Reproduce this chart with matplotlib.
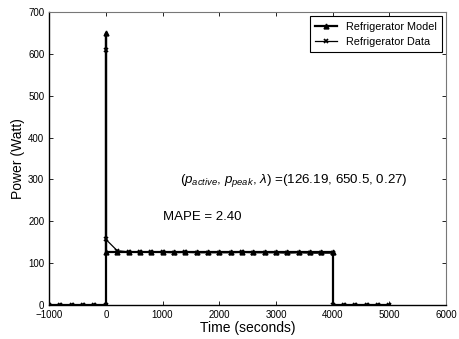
import matplotlib
matplotlib.use('Agg')
import matplotlib.pyplot as plt

plt.rcParams['font.family'] = ['Liberation Sans', 'DejaVu Sans']
plt.rcParams['mathtext.fontset'] = 'custom'
plt.rcParams['mathtext.rm'] = 'Liberation Sans'
plt.rcParams['mathtext.it'] = 'Liberation Sans:italic'

# model: sampled every 200 s, step at 0 and 4000
model_t = [-1000, -800, -600, -400, -200, 0, 0, 0] + list(range(200, 4001, 200)) + [4000, 4200, 4400, 4600, 4800, 5000]
model_p = [0, 0, 0, 0, 0, 0, 650.5, 126.19] + [126.19] * 20 + [0, 0, 0, 0, 0, 0]

# measured data
data_t = [-1000, -800, -600, -400, -200, 0, 0, 0] + list(range(200, 4001, 200)) + [4000, 4200, 4400, 4600, 4800, 5000]
data_p = [0, 0, 0, 0, 0, 0, 609, 157,
          130, 127, 127, 126, 126, 125, 126, 125, 125, 125,
          125, 126, 125, 125, 125, 124, 125, 124, 124, 124,
          0, 0, 0, 0, 0, 0]

fig = plt.figure(figsize=(4.59, 3.39), dpi=100)
ax = fig.add_axes([0.107, 0.100, 0.865, 0.865])

ax.plot(model_t, model_p, '-^', color='k', lw=1.6, ms=3.5, label='Refrigerator Model')
ax.plot(data_t, data_p, '-x', color='k', lw=0.9, ms=3.5, mew=1.2, label='Refrigerator Data')

ax.set_xlim(-1000, 6000)
ax.set_ylim(0, 700)
ax.set_xticks(range(-1000, 6001, 1000))
ax.set_xticklabels(['\u22121000', '0', '1000', '2000', '3000', '4000', '5000', '6000'])
ax.set_yticks(range(0, 701, 100))
ax.tick_params(direction='in', top=True, right=True, labelsize=7, length=3, width=0.6)
for s in ['top', 'right']:
    ax.spines[s].set_color('#777777')
for s in ['left', 'bottom']:
    ax.spines[s].set_linewidth(1.0)

ax.set_xlabel('Time (seconds)', fontsize=10, labelpad=1)
ax.set_ylabel('Power (Watt)', fontsize=10, labelpad=2)

ax.text(1300, 298, r'($p_{active}$, $p_{peak}$, $\lambda$) =(126.19, 650.5, 0.27)',
        fontsize=9.6, va='center', ha='left')
ax.text(1000, 211, 'MAPE = 2.40', fontsize=9.5, va='center', ha='left')

leg = ax.legend(loc='upper right', fontsize=7.8, fancybox=False, edgecolor='k',
                framealpha=1, handlelength=2.0, borderpad=0.5, labelspacing=0.5,
                borderaxespad=0.4)
leg.get_frame().set_linewidth(0.8)

fig.savefig('out.png', dpi=100)
